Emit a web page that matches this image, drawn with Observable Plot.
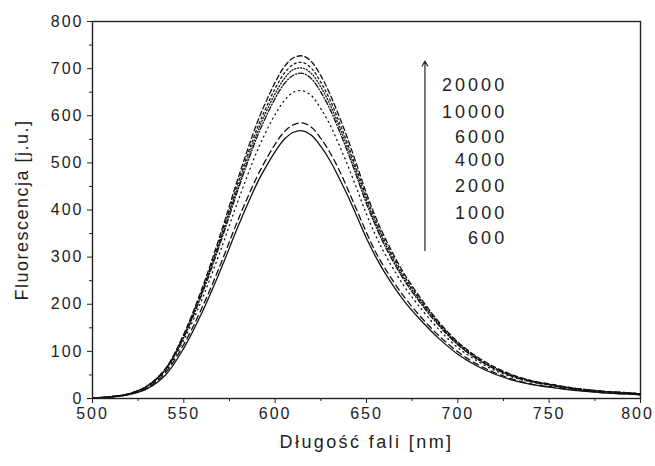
<!DOCTYPE html>
<html><head><meta charset="utf-8">
<script src="https://cdn.jsdelivr.net/npm/d3@7"></script>
<script src="https://cdn.jsdelivr.net/npm/@observablehq/plot@0.6"></script>
<style>body{margin:0;background:#fff} svg{display:block}</style>
</head><body><div id="chart"></div>
<script>
const wavelengths = [500,510,520,530,540,550,560,570,580,590,595,600,605,610,615,620,625,630,635,640,645,650,655,660,670,680,690,700,710,720,730,740,750,760,770,780,790,800];
const s600   = [1,3,8,21,50,107,183,272,368,456,492,524,550,565,568,558,535,505,468,428,384,340,301,267,210,165,126,94,70,52,39,30,24,19,15,12,10,8];
const s1000  = [1,3,9,23,55,115,193,284,382,470,507,540,566,581,585,575,552,522,485,442,397,352,311,277,219,172,132,99,74,55,41,31,25,20,16,12,10,8];
const s2000  = [1,3,9,25,58,124,211,313,423,524,566,603,632,650,653,642,615,581,538,492,442,391,346,307,242,190,145,108,81,60,45,35,28,22,17,14,11,9];
const s4000  = [1,4,10,26,61,130,222,330,447,554,598,637,668,686,690,678,650,614,569,520,467,413,366,324,255,200,153,114,85,63,47,36,29,23,18,15,12,10];
const s6000  = [1,4,10,26,62,132,226,336,454,563,608,647,679,698,701,689,661,624,578,529,474,420,372,330,259,204,156,116,86,64,48,37,30,23,19,15,12,10];
const s10000 = [1,4,10,27,63,134,230,341,462,572,617,658,690,709,713,700,671,634,587,537,482,427,378,335,264,207,158,118,88,65,49,38,30,24,19,15,13,10];
const s20000 = [1,4,10,27,64,137,234,348,471,584,630,671,704,723,727,714,685,646,599,548,492,435,385,342,269,211,161,120,90,67,50,38,31,24,19,15,13,10];
const seriesNames = ["600","1000","2000","4000","6000","10000","20000"];
const seriesValues = [s600,s1000,s2000,s4000,s6000,s10000,s20000];
const seriesDash = [null,"6,4","1,4","5,2,1,2","1,2","2,3","5,3"];
const legendLabels = ["20000","10000","6000","4000","2000","1000","600"];
const legendY = [664,607,554,505,450,393,340];
const legendX = 727;
const arrowX = 682, arrowFrom = 314, arrowTo = 716;
const xTicks = [500,550,600,650,700,750,800];
const xMinor = [525,575,625,675,725,775];
const yTicks = [0,100,200,300,400,500,600,700,800];
const yMinor = [50,150,250,350,450,550,650,750];
const xTitle = "Długość fali [nm]";
const yTitle = "Fluorescencja [j.u.]";

const rows = seriesNames.flatMap((name, i) => wavelengths.map((w, j) => ({series: name, x: w, y: seriesValues[i][j]})));
const font = "Liberation Sans, Arial, sans-serif";

const plot = Plot.plot({
  width: 655, height: 466,
  marginLeft: 92, marginRight: 15, marginTop: 21, marginBottom: 68,
  style: {fontFamily: font, color: "#222", background: "#fff"},
  x: {domain: [500, 800]},
  y: {domain: [0, 800]},
  marks: [
    ...seriesNames.map((name, i) => Plot.line(rows.filter(d => d.series === name), {
      x: "x", y: "y", stroke: "#111", strokeWidth: 1.3, strokeDasharray: seriesDash[i], curve: "catmull-rom"
    })),
    Plot.axisX({ticks: xTicks, tickSize: 5, tickPadding: 4, fontSize: 16, label: null, stroke: "#222"}),
    Plot.axisX({ticks: xMinor, tickSize: 3, text: null, label: null, stroke: "#222"}),
    Plot.axisY({ticks: yTicks, tickSize: 5, tickPadding: 4, fontSize: 16, label: null, stroke: "#222"}),
    Plot.axisY({ticks: yMinor, tickSize: 3, text: null, label: null, stroke: "#222"}),
    Plot.frame({stroke: "#222", strokeWidth: 1.4}),
    Plot.arrow([0], {x1: () => arrowX, x2: () => arrowX, y1: () => arrowFrom, y2: () => arrowTo, stroke: "#222", strokeWidth: 1.2, headLength: 7}),
    Plot.text(legendLabels, {x: () => legendX, y: (d, i) => legendY[i], text: d => d, textAnchor: "end", fontSize: 18, fill: "#222"}),
    Plot.text([xTitle], {frameAnchor: "bottom", dy: 49, fontSize: 18, fill: "#222"}),
    Plot.text([yTitle], {frameAnchor: "left", dx: -70, rotate: -90, textAnchor: "middle", fontSize: 18, fill: "#222"})
  ]
});
document.getElementById("chart").appendChild(plot);
plot.querySelectorAll("text").forEach(t => {
  const g = t.closest("g[aria-label]");
  const lab = g ? g.getAttribute("aria-label") : "";
  const txt = t.textContent;
  if (lab.includes("tick label")) {
    t.style.letterSpacing = "2px";
    if (lab.startsWith("x") && txt === "800") t.setAttribute("dx", "-3");
  } else if (legendLabels.includes(txt)) t.style.letterSpacing = "3px";
  else if (txt === xTitle) t.style.letterSpacing = "2.4px";
  else if (txt === yTitle) t.style.letterSpacing = "1.5px";
});
</script>
</body></html>
